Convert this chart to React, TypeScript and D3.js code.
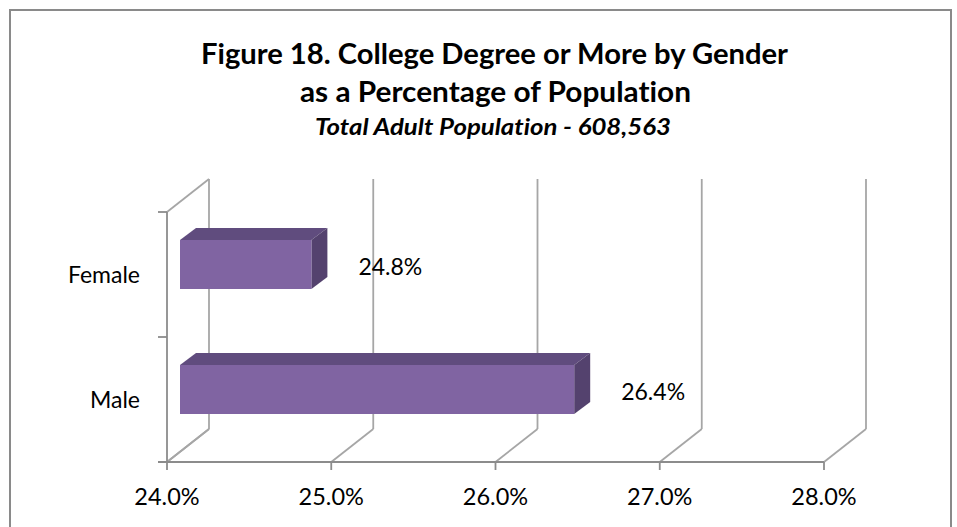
import React from "react";
import * as d3 from "d3";

const categories = ["Female", "Male"];
const values = [24.8, 26.4];
const valueLabels = ["24.8%", "26.4%"];
const ticks = [24, 25, 26, 27, 28];
const titleLines = ["Figure 18. College Degree or More by Gender", "as a Percentage of Population"];
const subtitle = "Total Adult Population - 608,563";

const W = 957;
const H = 527;

export default function App() {
  const x = d3.scaleLinear().domain([24, 28]).range([167, 824]);
  const y = d3.scaleBand<string>().domain(categories).range([212, 462]).padding(0);
  const wall = { dx: 42, dy: -33 };
  const front = { dx: 13, dy: -10 };
  const depth = { dx: 16, dy: -12 };
  const barH = y.bandwidth() * 0.392;
  const top = 212, bottom = 462;
  const grid = "#a6a6a6";
  const axis = "#8c8c8c";
  const font = "Lato, 'Open Sans', sans-serif";
  const x0 = x(24);
  const noLig = { fontVariantLigatures: "none" as const };

  return (
    <div style={{ position: "absolute", left: 0, top: 0 }}>
      <svg width={W} height={H} style={{ display: "block" }}>
        <rect x={0} y={0} width={W} height={H} fill="#fff" />
        <rect x={10} y={10} width={941} height={530} fill="none" stroke="#8a8a8a" strokeWidth={2} />

        {/* titles */}
        <text x={494.5} y={64} textAnchor="middle" fontFamily={font} fontWeight="bold" fontSize={28.5} style={noLig}
          textLength={587} lengthAdjust="spacingAndGlyphs">{titleLines[0]}</text>
        <text x={495.5} y={102} textAnchor="middle" fontFamily={font} fontWeight="bold" fontSize={28.5} style={noLig}
          textLength={391} lengthAdjust="spacingAndGlyphs">{titleLines[1]}</text>
        <text x={493} y={135} textAnchor="middle" fontFamily={font} fontWeight="bold" fontStyle="italic" fontSize={22.5} style={noLig}
          textLength={356} lengthAdjust="spacingAndGlyphs">{subtitle}</text>

        {/* left side wall */}
        <line x1={x0} y1={top} x2={x0 + wall.dx} y2={top + wall.dy} stroke={grid} strokeWidth={1.8} />
        <line x1={x0} y1={bottom} x2={x0 + wall.dx} y2={bottom + wall.dy} stroke={grid} strokeWidth={1.8} />

        {/* back wall gridlines + floor diagonals */}
        {ticks.map((t) => (
          <g key={t}>
            <line x1={x(t) + wall.dx} y1={top + wall.dy} x2={x(t) + wall.dx} y2={bottom + wall.dy} stroke={grid} strokeWidth={1.8} />
            <line x1={x(t)} y1={bottom} x2={x(t) + wall.dx} y2={bottom + wall.dy} stroke={grid} strokeWidth={1.8} />
          </g>
        ))}

        {/* axes */}
        <line x1={x0} y1={top} x2={x0} y2={bottom} stroke={axis} strokeWidth={1.8} />
        <line x1={158} y1={bottom} x2={x(28)} y2={bottom} stroke={axis} strokeWidth={1.8} />
        {[top, top + y.step(), bottom].map((yy, i) => (
          <line key={i} x1={158} y1={yy} x2={x0} y2={yy} stroke={axis} strokeWidth={1.8} />
        ))}
        {ticks.map((t) => (
          <line key={t} x1={x(t)} y1={bottom} x2={x(t)} y2={bottom + 8} stroke={axis} strokeWidth={1.8} />
        ))}

        {/* bars */}
        {categories.map((c, i) => {
          const cy = (y(c) as number) + y.bandwidth() / 2;
          const fx0 = x0 + front.dx;
          const fx1 = x(values[i]) + front.dx;
          const fy0 = cy - barH / 2 + front.dy;
          const fy1 = cy + barH / 2 + front.dy;
          const topFace = `M${fx0},${fy0} L${fx0 + depth.dx},${fy0 + depth.dy} L${fx1 + depth.dx},${fy0 + depth.dy} L${fx1},${fy0} Z`;
          const sideFace = `M${fx1},${fy0} L${fx1 + depth.dx},${fy0 + depth.dy} L${fx1 + depth.dx},${fy1 + depth.dy} L${fx1},${fy1} Z`;
          return (
            <g key={c}>
              <path d={topFace} fill="#604c7e" />
              <path d={sideFace} fill="#54426e" />
              <rect x={fx0} y={fy0} width={fx1 - fx0} height={fy1 - fy0} fill="#8064a2" />
            </g>
          );
        })}

        {/* data labels */}
        {categories.map((c, i) => {
          const cy = (y(c) as number) + y.bandwidth() / 2;
          return (
            <text key={c} x={x(values[i]) + 60} y={cy + front.dy + 10} fontFamily={font} fontSize={23} fill="#000">
              {valueLabels[i]}
            </text>
          );
        })}

        {/* category labels */}
        {categories.map((c) => {
          const cy = (y(c) as number) + y.bandwidth() / 2;
          return (
            <text key={c} x={140} y={cy + 8.5} textAnchor="end" fontFamily={font} fontSize={23} fill="#000">
              {c}
            </text>
          );
        })}

        {/* tick labels */}
        {ticks.map((t) => (
          <text key={t} x={x(t)} y={505} textAnchor="middle" fontFamily={font} fontSize={23.5} fill="#000">
            {d3.format(".1f")(t) + "%"}
          </text>
        ))}
      </svg>
    </div>
  );
}
